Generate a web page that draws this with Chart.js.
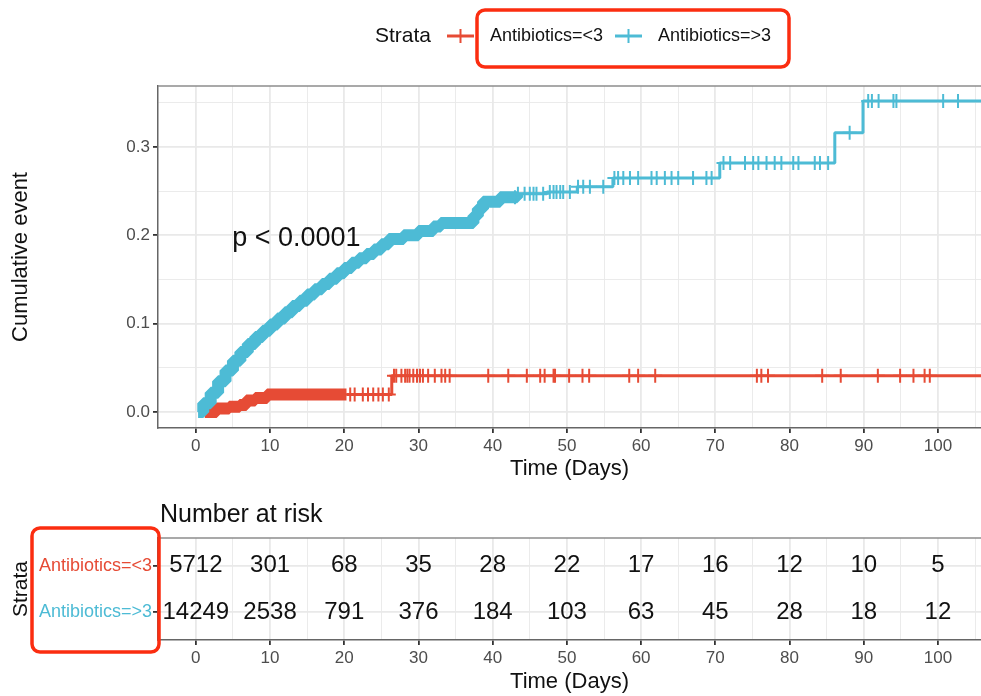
<!DOCTYPE html>
<html>
<head>
<meta charset="utf-8">
<script src="https://cdn.jsdelivr.net/npm/chart.js@4.4.1/dist/chart.umd.min.js"></script>
<style>
  html, body { margin: 0; padding: 0; background: #fff; }
  #wrap { position: relative; width: 981px; height: 696px; overflow: hidden; }
  #km { position: absolute; left: 0; top: 0; }
  #risk { position: absolute; left: 0; top: 490px; }
</style>
</head>
<body>
<div id="wrap">
  <canvas id="km" width="981" height="490"></canvas>
  <canvas id="risk" width="981" height="206"></canvas>
</div>
<script>
// cumulative event plot + number at risk table
const strata = ["Antibiotics=<3", "Antibiotics=>3"];
const strataColors = ["#E64B35", "#4DBBD5"];

// step points: value holds from this time until the next one
const lowTimes = [1.2, 2.8, 4.5, 5.9, 6.8, 8.0, 9.6, 20.3, 26.4, 106];
const lowEvent = [0.000, 0.004, 0.006, 0.008, 0.013, 0.016, 0.020, 0.020, 0.041, 0.041];

const highTimes = [0.3, 1, 2, 3, 4, 5, 6, 7, 8, 9, 10, 11, 12, 13, 14, 15, 16, 17, 18, 19, 20,
    21, 22, 23, 24, 25, 26, 28, 30, 32, 33, 37.4, 38, 38.7, 41, 43.3, 47.3, 51.4, 56.2, 70.6,
    86.1, 89.9, 106];
const highEvent = [0.000, 0.010, 0.022, 0.035, 0.047, 0.058, 0.068, 0.077, 0.085, 0.092, 0.099,
    0.106, 0.113, 0.120, 0.126, 0.133, 0.139, 0.145, 0.151, 0.157, 0.163,
    0.169, 0.174, 0.179, 0.184, 0.190, 0.196, 0.200, 0.205, 0.210, 0.214, 0.222, 0.230, 0.238,
    0.243, 0.247, 0.249, 0.255, 0.265, 0.282, 0.316, 0.352, 0.352];

// censored times (the + marks) where they can be told apart
const lowCensor = [20.8, 21.4, 22.5, 23.2, 23.9, 24.6, 25.2, 26.0, 26.7, 27.0, 27.7, 28.2, 28.5,
    28.8, 29.3, 29.8, 30.2, 30.6, 31.3, 32.2, 33.1, 33.6, 34.2, 39.4, 42.1, 44.6, 46.4, 47.0,
    48.2, 48.4, 50.3, 52.1, 53.0, 58.4, 59.6, 61.9, 75.6, 76.2, 77.1, 84.4, 86.9, 91.9, 94.9,
    96.7, 98.2, 98.9];
const highCensor = [43.0, 43.4, 44.3, 45.0, 45.5, 45.9, 46.8, 47.7, 48.2, 48.6, 49.1, 49.5, 50.4,
    51.5, 52.2, 53.1, 54.9, 56.4, 56.9, 57.6, 58.5, 59.6, 61.4, 62.1, 63.2, 64.1, 65.0, 67.0,
    68.8, 69.5, 71.1, 72.0, 74.0, 75.1, 75.8, 76.9, 78.0, 78.9, 80.5, 81.2, 83.4, 84.1, 85.2,
    88.1, 90.6, 91.1, 92.0, 94.0, 94.4, 100.7, 102.7];
// before these times the censor marks pile up into a solid band
const denseUntil = [20.3, 43.3];

const pText = "p < 0.0001";
const pAt = [4.9, 0.196];

const timeBreaks = [0, 10, 20, 30, 40, 50, 60, 70, 80, 90, 100];
const eventBreaks = [0, 0.1, 0.2, 0.3];

const riskTimes = [0, 10, 20, 30, 40, 50, 60, 70, 80, 90, 100];
const riskLow = [5712, 301, 68, 35, 28, 22, 17, 16, 12, 10, 5];
const riskHigh = [14249, 2538, 791, 376, 184, 103, 63, 45, 28, 18, 12];

Chart.defaults.font.family = "'Liberation Sans', Arial, Helvetica, sans-serif";
Chart.defaults.color = "#4d4d4d";

const BOX_RED = "#fb2d10";
const GRID = "#e9e9e9";

function event_at(times, vals, t) {
    let v = vals[0];
    for (let i = 0; i < times.length; i++) if (times[i] <= t) v = vals[i];
    return v;
}

function to_points(xs, ys) {
    return xs.map((x, i) => ({ x, y: ys[i] }));
}

function censor_points(cens, times, vals) {
    return cens.map(t => ({ x: t, y: event_at(times, vals, t) }));
}

// minor grid halfway between the breaks
const timeGrid = [];
timeBreaks.forEach(t => { timeGrid.push(t, t + 5); });
const eventGrid = [];
eventBreaks.forEach(v => { eventGrid.push(v, +(v + 0.05).toFixed(2)); });

function is_major(list, v) {
    return list.some(b => Math.abs(b - v) < 1e-9);
}

function round_box(ctx, x, y, w, h, r) {
    ctx.beginPath();
    ctx.moveTo(x + r, y);
    ctx.arcTo(x + w, y, x + w, y + h, r);
    ctx.arcTo(x + w, y + h, x, y + h, r);
    ctx.arcTo(x, y + h, x, y, r);
    ctx.arcTo(x, y, x + w, y, r);
    ctx.closePath();
    ctx.stroke();
}

function time_axis(height, titlePad) {
    return {
        type: "linear",
        min: -5.1,
        max: 105.8,
        afterBuildTicks: s => { s.ticks = timeGrid.map(v => ({ value: v })); },
        afterFit: s => { s.height = height; },
        ticks: {
            autoSkip: false,
            maxRotation: 0,
            padding: 3,
            color: "#4d4d4d",
            font: { size: 17 },
            callback: v => is_major(timeBreaks, v) ? String(v) : ""
        },
        grid: {
            color: GRID,
            lineWidth: c => is_major(timeBreaks, c.tick.value) ? 1.8 : 0.9,
            tickLength: 5,
            tickColor: c => is_major(timeBreaks, c.tick.value) ? "#333" : "rgba(0,0,0,0)"
        },
        border: { color: "#666", width: 1.5 },
        title: {
            display: true,
            text: "Time (Days)",
            color: "#111",
            font: { size: 22 },
            padding: { top: 0, bottom: titlePad }
        }
    };
}

function line_set(label, times, vals, color, dense, order) {
    return {
        type: "line",
        label,
        data: to_points(times, vals),
        borderColor: color,
        backgroundColor: color,
        borderWidth: 3,
        borderJoinStyle: "bevel",
        stepped: true,
        pointRadius: 0,
        fill: false,
        order,
        segment: {
            borderWidth: c => c.p1.parsed.x <= dense ? 12 : 3
        }
    };
}

function censor_set(label, cens, times, vals, color, order) {
    return {
        type: "scatter",
        label,
        data: censor_points(cens, times, vals),
        borderColor: color,
        backgroundColor: color,
        pointStyle: "cross",
        pointRadius: 7,
        borderWidth: 2,
        order
    };
}

const kmDecor = {
    id: "kmDecor",
    afterDatasetsDraw(chart) {
        const { ctx, scales } = chart;
        ctx.save();
        ctx.fillStyle = "#111";
        ctx.font = "27px 'Liberation Sans', Arial, sans-serif";
        ctx.textAlign = "left";
        ctx.textBaseline = "middle";
        ctx.fillText(pText, scales.x.getPixelForValue(pAt[0]), scales.y.getPixelForValue(pAt[1]));
        ctx.restore();
    },
    afterDraw(chart) {
        const { ctx, chartArea } = chart;
        ctx.save();
        // top of the panel border
        ctx.strokeStyle = "#8c8c8c";
        ctx.lineWidth = 1.5;
        ctx.beginPath();
        ctx.moveTo(chartArea.left, chartArea.top);
        ctx.lineTo(chartArea.right, chartArea.top);
        ctx.stroke();

        // legend
        const ly = 36;
        ctx.textBaseline = "middle";
        ctx.textAlign = "left";
        ctx.fillStyle = "#111";
        ctx.font = "21px 'Liberation Sans', Arial, sans-serif";
        ctx.fillText("Strata", 375, ly);
        const keys = [[447, 490], [615, 658]];
        keys.forEach(([kx, tx], i) => {
            ctx.strokeStyle = strataColors[i];
            ctx.lineWidth = 3;
            ctx.beginPath();
            ctx.moveTo(kx, ly);
            ctx.lineTo(kx + 27, ly);
            ctx.stroke();
            ctx.lineWidth = 2;
            ctx.beginPath();
            ctx.moveTo(kx + 13.5, ly - 7);
            ctx.lineTo(kx + 13.5, ly + 7);
            ctx.stroke();
            ctx.fillStyle = "#111";
            ctx.font = "18px 'Liberation Sans', Arial, sans-serif";
            ctx.fillText(strata[i], tx, ly);
        });

        ctx.strokeStyle = BOX_RED;
        ctx.lineWidth = 3.5;
        round_box(ctx, 477, 10, 312, 57, 8);
        ctx.restore();
    }
};

new Chart(document.getElementById("km"), {
    type: "line",
    data: {
        datasets: [
            censor_set(strata[1], highCensor, highTimes, highEvent, strataColors[1], 0),
            line_set(strata[1], highTimes, highEvent, strataColors[1], denseUntil[1], 1),
            censor_set(strata[0], lowCensor, lowTimes, lowEvent, strataColors[0], 2),
            line_set(strata[0], lowTimes, lowEvent, strataColors[0], denseUntil[0], 3)
        ]
    },
    options: {
        responsive: false,
        animation: false,
        layout: { autoPadding: false, padding: { top: 86, right: 0, bottom: 0, left: 0 } },
        plugins: { legend: { display: false }, tooltip: { enabled: false } },
        scales: {
            x: time_axis(62, 8),
            y: {
                type: "linear",
                min: -0.018,
                max: 0.369,
                afterBuildTicks: s => { s.ticks = eventGrid.map(v => ({ value: v })); },
                afterFit: s => { s.width = 158; },
                ticks: {
                    autoSkip: false,
                    padding: 3,
                    color: "#4d4d4d",
                    font: { size: 17 },
                    callback: v => is_major(eventBreaks, v) ? v.toFixed(1) : ""
                },
                grid: {
                    color: GRID,
                    lineWidth: c => is_major(eventBreaks, c.tick.value) ? 1.8 : 0.9,
                    tickLength: 5,
                    tickColor: c => is_major(eventBreaks, c.tick.value) ? "#333" : "rgba(0,0,0,0)"
                },
                border: { color: "#666", width: 1.5 },
                title: {
                    display: true,
                    text: "Cumulative event",
                    color: "#111",
                    font: { size: 22 },
                    padding: { top: 8, bottom: 0 }
                }
            }
        }
    },
    plugins: [kmDecor]
});

// ---- number at risk ----
const riskDecor = {
    id: "riskDecor",
    afterDatasetsDraw(chart) {
        const { ctx } = chart;
        ctx.save();
        ctx.fillStyle = "#111";
        ctx.font = "24px 'Liberation Sans', Arial, sans-serif";
        ctx.textAlign = "center";
        ctx.textBaseline = "middle";
        chart.data.datasets.forEach((ds, di) => {
            chart.getDatasetMeta(di).data.forEach((pt, i) => {
                ctx.fillText(String(ds.data[i].n), pt.x, pt.y);
            });
        });
        ctx.restore();
    },
    afterDraw(chart) {
        const { ctx, chartArea } = chart;
        ctx.save();
        ctx.strokeStyle = "#8c8c8c";
        ctx.lineWidth = 1.5;
        ctx.beginPath();
        ctx.moveTo(chartArea.left, chartArea.top);
        ctx.lineTo(chartArea.right, chartArea.top);
        ctx.stroke();

        ctx.fillStyle = "#111";
        ctx.font = "25px 'Liberation Sans', Arial, sans-serif";
        ctx.textAlign = "left";
        ctx.textBaseline = "alphabetic";
        ctx.fillText("Number at risk", 160, 32);

        ctx.strokeStyle = BOX_RED;
        ctx.lineWidth = 3.5;
        round_box(ctx, 32, 38, 127, 124, 8);
        ctx.restore();
    }
};

function risk_set(counts, row) {
    return {
        type: "scatter",
        data: riskTimes.map((t, i) => ({ x: t, y: row, n: counts[i] })),
        pointRadius: 0,
        pointHoverRadius: 0
    };
}

new Chart(document.getElementById("risk"), {
    type: "scatter",
    data: {
        datasets: [risk_set(riskLow, 1), risk_set(riskHigh, 2)]
    },
    options: {
        responsive: false,
        animation: false,
        layout: { autoPadding: false, padding: { top: 48, right: 0, bottom: 0, left: 0 } },
        plugins: { legend: { display: false }, tooltip: { enabled: false } },
        scales: {
            x: time_axis(56, 1),
            y: {
                type: "linear",
                min: 0.4,
                max: 2.6,
                reverse: true,
                afterBuildTicks: s => { s.ticks = [{ value: 1 }, { value: 2 }]; },
                afterFit: s => { s.width = 158; },
                ticks: {
                    autoSkip: false,
                    padding: 1,
                    font: { size: 18 },
                    color: c => strataColors[c.index],
                    callback: v => strata[v - 1]
                },
                grid: { color: GRID, lineWidth: 1.8, tickLength: 5, tickColor: "#333" },
                border: { color: "#666", width: 1.5 },
                title: {
                    display: true,
                    text: "Strata",
                    color: "#111",
                    font: { size: 21 },
                    padding: { top: 9, bottom: 0 }
                }
            }
        }
    },
    plugins: [riskDecor]
});
</script>
</body>
</html>
